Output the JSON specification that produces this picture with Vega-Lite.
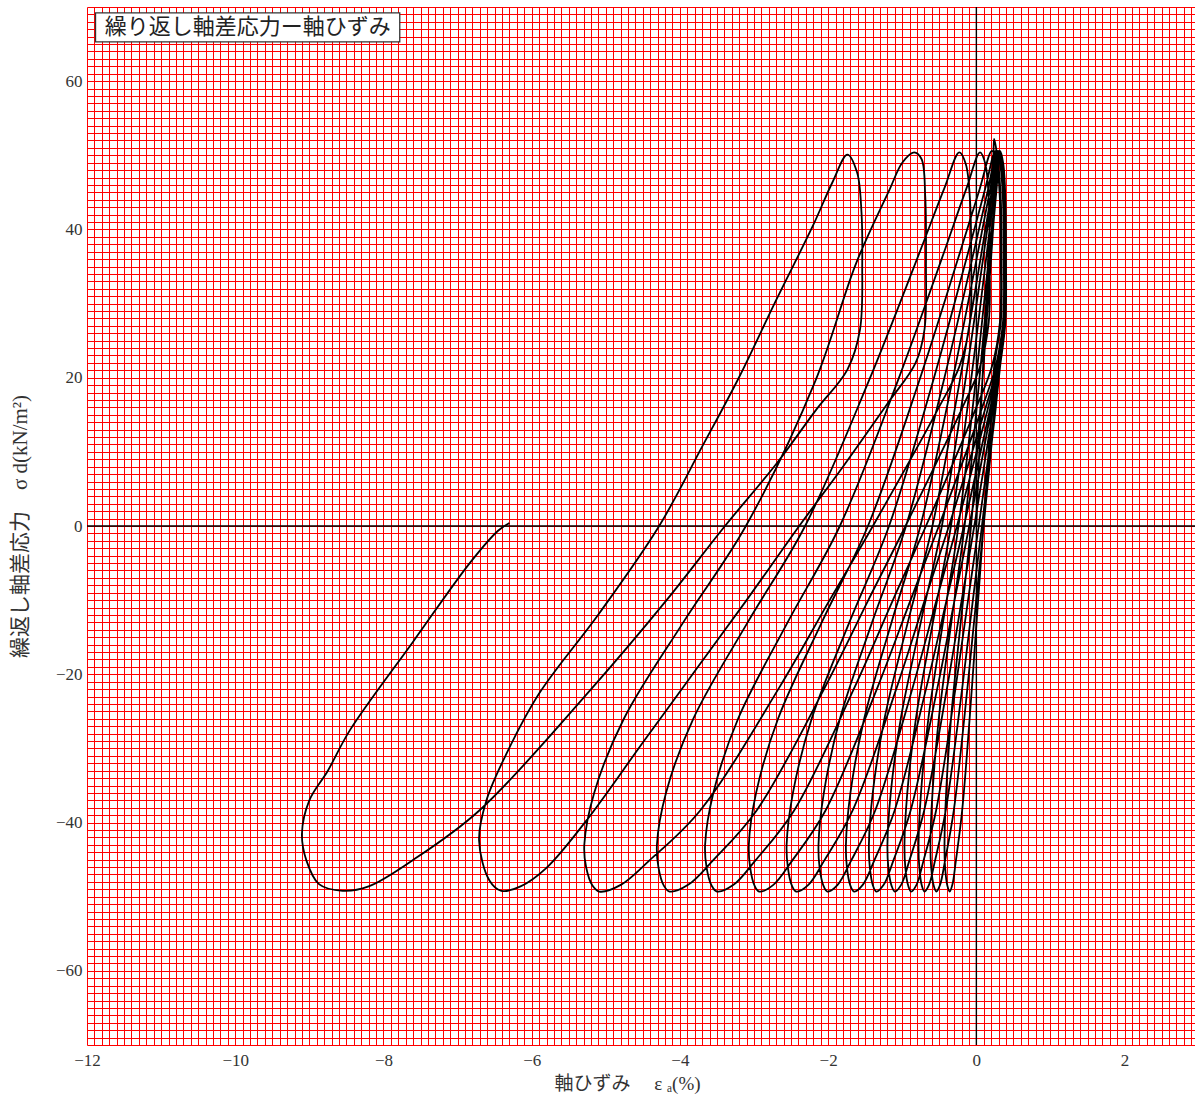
{
"$schema":"https://vega.github.io/schema/vega-lite/v6.json",
"width":1108,"height":1038,
"autosize":{"type":"none"},
"padding":{"left":87,"top":7,"right":0,"bottom":52},
"background":"white",
"config":{"view":{"stroke":null}},
"data":{"values":[
{"i":1,"x":0,"y":0},{"i":2,"x":0.06,"y":15},{"i":3,"x":0.14,"y":32},{"i":4,"x":0.2,"y":45},{"i":5,"x":0.23,"y":50},{"i":6,"x":0.24,"y":52.2},
{"i":7,"x":0.295,"y":48.8},{"i":8,"x":0.33,"y":44},{"i":9,"x":0.34,"y":36},{"i":10,"x":0.33,"y":27.5},{"i":11,"x":0.24,"y":21.5},{"i":12,"x":0.204,"y":15.7},{"i":13,"x":0.096,"y":0},{"i":14,"x":0.024,"y":-10},{"i":15,"x":-0.06,"y":-21.8},{"i":16,"x":-0.192,"y":-38.4},{"i":17,"x":-0.276,"y":-45.1},{"i":18,"x":-0.324,"y":-48.4},{"i":19,"x":-0.36,"y":-49.3},{"i":20,"x":-0.392,"y":-48.5},{"i":21,"x":-0.422,"y":-46},{"i":22,"x":-0.43,"y":-43},
{"i":23,"x":-0.408,"y":-36},{"i":24,"x":-0.342,"y":-26},{"i":25,"x":-0.211,"y":-13},{"i":26,"x":-0.072,"y":0},{"i":27,"x":0.081,"y":19.5},{"i":28,"x":0.198,"y":36},{"i":29,"x":0.264,"y":45.5},{"i":30,"x":0.3,"y":50.6},
{"i":31,"x":0.35,"y":48.8},{"i":32,"x":0.381,"y":44},{"i":33,"x":0.39,"y":36},{"i":34,"x":0.381,"y":27.5},{"i":35,"x":0.3,"y":21.5},{"i":36,"x":0.25,"y":15.7},{"i":37,"x":0.098,"y":0},{"i":38,"x":-0.002,"y":-10},{"i":39,"x":-0.12,"y":-21.8},{"i":40,"x":-0.305,"y":-38.4},{"i":41,"x":-0.422,"y":-45.1},{"i":42,"x":-0.49,"y":-48.4},{"i":43,"x":-0.54,"y":-49.3},{"i":44,"x":-0.576,"y":-48.5},{"i":45,"x":-0.61,"y":-46},{"i":46,"x":-0.62,"y":-43},
{"i":47,"x":-0.592,"y":-36},{"i":48,"x":-0.507,"y":-26},{"i":49,"x":-0.338,"y":-13},{"i":50,"x":-0.159,"y":0},{"i":51,"x":0.038,"y":19.5},{"i":52,"x":0.188,"y":36},{"i":53,"x":0.273,"y":45.5},{"i":54,"x":0.32,"y":50.6},
{"i":55,"x":0.364,"y":48.8},{"i":56,"x":0.392,"y":44},{"i":57,"x":0.4,"y":36},{"i":58,"x":0.392,"y":27.5},{"i":59,"x":0.32,"y":21.5},{"i":60,"x":0.259,"y":15.7},{"i":61,"x":0.075,"y":0},{"i":62,"x":-0.047,"y":-10},{"i":63,"x":-0.19,"y":-21.8},{"i":64,"x":-0.414,"y":-38.4},{"i":65,"x":-0.557,"y":-45.1},{"i":66,"x":-0.639,"y":-48.4},{"i":67,"x":-0.7,"y":-49.3},{"i":68,"x":-0.736,"y":-48.5},{"i":69,"x":-0.77,"y":-46},{"i":70,"x":-0.78,"y":-43},
{"i":71,"x":-0.747,"y":-36},{"i":72,"x":-0.648,"y":-26},{"i":73,"x":-0.45,"y":-13},{"i":74,"x":-0.241,"y":0},{"i":75,"x":-0.01,"y":19.5},{"i":76,"x":0.166,"y":36},{"i":77,"x":0.265,"y":45.5},{"i":78,"x":0.32,"y":50.6},
{"i":79,"x":0.364,"y":48.8},{"i":80,"x":0.392,"y":44},{"i":81,"x":0.4,"y":36},{"i":82,"x":0.392,"y":27.5},{"i":83,"x":0.32,"y":21.5},{"i":84,"x":0.248,"y":15.7},{"i":85,"x":0.032,"y":0},{"i":86,"x":-0.112,"y":-10},{"i":87,"x":-0.28,"y":-21.8},{"i":88,"x":-0.544,"y":-38.4},{"i":89,"x":-0.712,"y":-45.1},{"i":90,"x":-0.808,"y":-48.4},{"i":91,"x":-0.88,"y":-49.3},{"i":92,"x":-0.92,"y":-48.5},{"i":93,"x":-0.959,"y":-46},{"i":94,"x":-0.97,"y":-43},
{"i":95,"x":-0.932,"y":-36},{"i":96,"x":-0.816,"y":-26},{"i":97,"x":-0.586,"y":-13},{"i":98,"x":-0.343,"y":0},{"i":99,"x":-0.074,"y":19.5},{"i":100,"x":0.131,"y":36},{"i":101,"x":0.246,"y":45.5},{"i":102,"x":0.31,"y":50.6},
{"i":103,"x":0.354,"y":48.8},{"i":104,"x":0.382,"y":44},{"i":105,"x":0.39,"y":36},{"i":106,"x":0.382,"y":27.5},{"i":107,"x":0.31,"y":21.5},{"i":108,"x":0.225,"y":15.7},{"i":109,"x":-0.028,"y":0},{"i":110,"x":-0.198,"y":-10},{"i":111,"x":-0.395,"y":-21.8},{"i":112,"x":-0.705,"y":-38.4},{"i":113,"x":-0.903,"y":-45.1},{"i":114,"x":-1.015,"y":-48.4},{"i":115,"x":-1.1,"y":-49.3},{"i":116,"x":-1.145,"y":-48.5},{"i":117,"x":-1.188,"y":-46},{"i":118,"x":-1.2,"y":-43},
{"i":119,"x":-1.155,"y":-36},{"i":120,"x":-1.02,"y":-26},{"i":121,"x":-0.75,"y":-13},{"i":122,"x":-0.465,"y":0},{"i":123,"x":-0.15,"y":19.5},{"i":124,"x":0.09,"y":36},{"i":125,"x":0.225,"y":45.5},{"i":126,"x":0.3,"y":50.6},
{"i":127,"x":0.35,"y":48.8},{"i":128,"x":0.381,"y":44},{"i":129,"x":0.39,"y":36},{"i":130,"x":0.381,"y":27.5},{"i":131,"x":0.3,"y":21.5},{"i":132,"x":0.201,"y":15.7},{"i":133,"x":-0.096,"y":0},{"i":134,"x":-0.294,"y":-10},{"i":135,"x":-0.525,"y":-21.8},{"i":136,"x":-0.888,"y":-38.4},{"i":137,"x":-1.119,"y":-45.1},{"i":138,"x":-1.251,"y":-48.4},{"i":139,"x":-1.35,"y":-49.3},{"i":140,"x":-1.395,"y":-48.5},{"i":141,"x":-1.438,"y":-46},{"i":142,"x":-1.45,"y":-43},
{"i":143,"x":-1.398,"y":-36},{"i":144,"x":-1.24,"y":-26},{"i":145,"x":-0.925,"y":-13},{"i":146,"x":-0.593,"y":0},{"i":147,"x":-0.225,"y":19.5},{"i":148,"x":0.055,"y":36},{"i":149,"x":0.213,"y":45.5},{"i":150,"x":0.3,"y":50.6},
{"i":151,"x":0.35,"y":48.8},{"i":152,"x":0.381,"y":44},{"i":153,"x":0.39,"y":36},{"i":154,"x":0.381,"y":27.5},{"i":155,"x":0.3,"y":21.5},{"i":156,"x":0.183,"y":15.7},{"i":157,"x":-0.168,"y":0},{"i":158,"x":-0.402,"y":-10},{"i":159,"x":-0.675,"y":-21.8},{"i":160,"x":-1.104,"y":-38.4},{"i":161,"x":-1.377,"y":-45.1},{"i":162,"x":-1.533,"y":-48.4},{"i":163,"x":-1.65,"y":-49.3},{"i":164,"x":-1.7,"y":-48.5},{"i":165,"x":-1.747,"y":-46},{"i":166,"x":-1.76,"y":-43},
{"i":167,"x":-1.699,"y":-36},{"i":168,"x":-1.514,"y":-26},{"i":169,"x":-1.145,"y":-13},{"i":170,"x":-0.755,"y":0},{"i":171,"x":-0.325,"y":19.5},{"i":172,"x":0.003,"y":36},{"i":173,"x":0.188,"y":45.5},{"i":174,"x":0.29,"y":50.6},
{"i":175,"x":0.345,"y":48.8},{"i":176,"x":0.38,"y":44},{"i":177,"x":0.39,"y":36},{"i":178,"x":0.38,"y":27.5},{"i":179,"x":0.29,"y":21.5},{"i":180,"x":0.152,"y":15.7},{"i":181,"x":-0.262,"y":0},{"i":182,"x":-0.538,"y":-10},{"i":183,"x":-0.86,"y":-21.8},{"i":184,"x":-1.366,"y":-38.4},{"i":185,"x":-1.688,"y":-45.1},{"i":186,"x":-1.872,"y":-48.4},{"i":187,"x":-2.01,"y":-49.3},{"i":188,"x":-2.064,"y":-48.5},{"i":189,"x":-2.116,"y":-46},{"i":190,"x":-2.13,"y":-43},
{"i":191,"x":-2.058,"y":-36},{"i":192,"x":-1.841,"y":-26},{"i":193,"x":-1.407,"y":-13},{"i":194,"x":-0.949,"y":0},{"i":195,"x":-0.443,"y":19.5},{"i":196,"x":-0.057,"y":36},{"i":197,"x":0.16,"y":45.5},{"i":198,"x":0.28,"y":50.6},
{"i":199,"x":0.335,"y":48.8},{"i":200,"x":0.37,"y":44},{"i":201,"x":0.38,"y":36},{"i":202,"x":0.37,"y":27.5},{"i":203,"x":0.28,"y":21.5},{"i":204,"x":0.117,"y":15.7},{"i":205,"x":-0.37,"y":0},{"i":206,"x":-0.696,"y":-10},{"i":207,"x":-1.075,"y":-21.8},{"i":208,"x":-1.671,"y":-38.4},{"i":209,"x":-2.051,"y":-45.1},{"i":210,"x":-2.267,"y":-48.4},{"i":211,"x":-2.43,"y":-49.3},{"i":212,"x":-2.489,"y":-48.5},{"i":213,"x":-2.544,"y":-46},{"i":214,"x":-2.56,"y":-43},
{"i":215,"x":-2.475,"y":-36},{"i":216,"x":-2.222,"y":-26},{"i":217,"x":-1.714,"y":-13},{"i":218,"x":-1.178,"y":0},{"i":219,"x":-0.586,"y":19.5},{"i":220,"x":-0.135,"y":36},{"i":221,"x":0.119,"y":45.5},{"i":222,"x":0.26,"y":50.6},
{"i":223,"x":0.32,"y":48.8},{"i":224,"x":0.359,"y":44},{"i":225,"x":0.37,"y":36},{"i":226,"x":0.359,"y":27.5},{"i":227,"x":0.26,"y":21.5},{"i":228,"x":0.069,"y":15.7},{"i":229,"x":-0.506,"y":0},{"i":230,"x":-0.888,"y":-10},{"i":231,"x":-1.335,"y":-21.8},{"i":232,"x":-2.037,"y":-38.4},{"i":233,"x":-2.483,"y":-45.1},{"i":234,"x":-2.739,"y":-48.4},{"i":235,"x":-2.93,"y":-49.3},{"i":236,"x":-2.993,"y":-48.5},{"i":237,"x":-3.053,"y":-46},{"i":238,"x":-3.07,"y":-43},
{"i":239,"x":-2.972,"y":-36},{"i":240,"x":-2.676,"y":-26},{"i":241,"x":-2.086,"y":-13},{"i":242,"x":-1.463,"y":0},{"i":243,"x":-0.774,"y":19.5},{"i":244,"x":-0.249,"y":36},{"i":245,"x":0.046,"y":45.5},{"i":246,"x":0.21,"y":50.6},
{"i":247,"x":0.276,"y":48.8},{"i":248,"x":0.318,"y":44},{"i":249,"x":0.33,"y":36},{"i":250,"x":0.318,"y":27.5},{"i":251,"x":0.21,"y":21.5},{"i":252,"x":-0.013,"y":15.7},{"i":253,"x":-0.68,"y":0},{"i":254,"x":-1.126,"y":-10},{"i":255,"x":-1.645,"y":-21.8},{"i":256,"x":-2.461,"y":-38.4},{"i":257,"x":-2.981,"y":-45.1},{"i":258,"x":-3.277,"y":-48.4},{"i":259,"x":-3.5,"y":-49.3},{"i":260,"x":-3.572,"y":-48.5},{"i":261,"x":-3.641,"y":-46},{"i":262,"x":-3.66,"y":-43},
{"i":263,"x":-3.549,"y":-36},{"i":264,"x":-3.215,"y":-26},{"i":265,"x":-2.547,"y":-13},{"i":266,"x":-1.842,"y":0},{"i":267,"x":-1.063,"y":19.5},{"i":268,"x":-0.469,"y":36},{"i":269,"x":-0.135,"y":45.5},{"i":270,"x":0.05,"y":50.4},
{"i":271,"x":0.122,"y":48.8},{"i":272,"x":0.167,"y":44},{"i":273,"x":0.18,"y":36},{"i":274,"x":0.167,"y":27.5},{"i":275,"x":0.05,"y":21.5},{"i":276,"x":-0.201,"y":15.7},{"i":277,"x":-0.956,"y":0},{"i":278,"x":-1.458,"y":-10},{"i":279,"x":-2.045,"y":-21.8},{"i":280,"x":-2.967,"y":-38.4},{"i":281,"x":-3.553,"y":-45.1},{"i":282,"x":-3.889,"y":-48.4},{"i":283,"x":-4.14,"y":-49.3},{"i":284,"x":-4.217,"y":-48.5},{"i":285,"x":-4.29,"y":-46},{"i":286,"x":-4.31,"y":-43},
{"i":287,"x":-4.188,"y":-36},{"i":288,"x":-3.82,"y":-26},{"i":289,"x":-3.086,"y":-13},{"i":290,"x":-2.311,"y":0},{"i":291,"x":-1.454,"y":19.5},{"i":292,"x":-0.801,"y":36},{"i":293,"x":-0.434,"y":45.5},{"i":294,"x":-0.23,"y":50.4},
{"i":295,"x":-0.142,"y":48.8},{"i":296,"x":-0.086,"y":44},{"i":297,"x":-0.07,"y":36},{"i":298,"x":-0.086,"y":27.5},{"i":299,"x":-0.23,"y":21.5},{"i":300,"x":-0.522,"y":15.7},{"i":301,"x":-1.396,"y":0},{"i":302,"x":-1.98,"y":-10},{"i":303,"x":-2.66,"y":-21.8},{"i":304,"x":-3.729,"y":-38.4},{"i":305,"x":-4.41,"y":-45.1},{"i":306,"x":-4.798,"y":-48.4},{"i":307,"x":-5.09,"y":-49.3},{"i":308,"x":-5.18,"y":-48.5},{"i":309,"x":-5.266,"y":-46},{"i":310,"x":-5.29,"y":-43},
{"i":311,"x":-5.157,"y":-36},{"i":312,"x":-4.756,"y":-26},{"i":313,"x":-3.955,"y":-13},{"i":314,"x":-3.11,"y":0},{"i":315,"x":-2.175,"y":19.5},{"i":316,"x":-1.62,"y":35.5},{"i":317,"x":-1.17,"y":45.4},{"i":318,"x":-1.0,"y":49},{"i":319,"x":-0.84,"y":50.4},
{"i":320,"x":-0.74,"y":49.5},{"i":321,"x":-0.69,"y":44.5},{"i":322,"x":-0.68,"y":35.5},{"i":323,"x":-0.7,"y":26.5},{"i":324,"x":-0.82,"y":22},{"i":325,"x":-1.2,"y":16.5},{"i":326,"x":-1.8,"y":8},{"i":327,"x":-2.39,"y":0},{"i":328,"x":-3.1,"y":-10},{"i":329,"x":-3.8,"y":-19.6},{"i":330,"x":-4.5,"y":-29.2},{"i":331,"x":-5.26,"y":-39.7},{"i":332,"x":-5.8,"y":-46.1},{"i":333,"x":-6.15,"y":-48.6},{"i":334,"x":-6.41,"y":-49.2},{"i":335,"x":-6.57,"y":-47.8},{"i":336,"x":-6.71,"y":-42.4},
{"i":337,"x":-6.61,"y":-37},{"i":338,"x":-6.34,"y":-30.7},{"i":339,"x":-5.9,"y":-22.6},{"i":340,"x":-5.09,"y":-11.8},{"i":341,"x":-4.28,"y":0},{"i":342,"x":-3.7,"y":10.7},{"i":343,"x":-3.2,"y":20.1},{"i":344,"x":-2.7,"y":30.5},{"i":345,"x":-2.21,"y":40.4},{"i":346,"x":-1.94,"y":46.4},{"i":347,"x":-1.74,"y":50.1},
{"i":348,"x":-1.61,"y":47.7},{"i":349,"x":-1.55,"y":42.3},{"i":350,"x":-1.54,"y":35.5},{"i":351,"x":-1.57,"y":26.5},{"i":352,"x":-1.74,"y":21.1},{"i":353,"x":-2.16,"y":15.7},{"i":354,"x":-2.69,"y":8.5},{"i":355,"x":-3.4,"y":-0.1},{"i":356,"x":-4.18,"y":-10},{"i":357,"x":-5.18,"y":-21.8},{"i":358,"x":-6.71,"y":-38.4},{"i":359,"x":-7.61,"y":-45.1},{"i":360,"x":-8.2,"y":-48.6},{"i":361,"x":-8.55,"y":-49.2},
{"i":362,"x":-8.87,"y":-48.3},{"i":363,"x":-9.04,"y":-45.1},{"i":364,"x":-9.1,"y":-41.5},{"i":365,"x":-9.0,"y":-37},{"i":366,"x":-8.75,"y":-33},{"i":367,"x":-8.45,"y":-27.5},{"i":368,"x":-7.6,"y":-15.6},{"i":369,"x":-6.82,"y":-4.8},{"i":370,"x":-6.45,"y":-0.6},{"i":371,"x":-6.3,"y":0.4}
]},
"layer":[
{"data":{"values":[{}]},"mark":{"type":"rule","color":"#000000","strokeWidth":1.4},"encoding":{"x":{"datum":0,"type":"quantitative"}}},
{"data":{"values":[{}]},"mark":{"type":"rule","color":"#000000","strokeWidth":1.4},"encoding":{"y":{"datum":0,"type":"quantitative"}}},
{"mark":{"type":"line","interpolate":"catmull-rom","color":"#000000","strokeWidth":1.8,"clip":true},
 "encoding":{
  "x":{"field":"x","type":"quantitative","scale":{"domain":[-12,2.95],"nice":false,"zero":false},
   "axis":{"title":"軸ひずみ　 ε ₐ(%)","tickCount":150,"grid":true,"gridColor":"#ff0000","gridWidth":1,"gridOpacity":1,"ticks":false,"domain":false,
    "labelExpr":"abs(datum.value) < 0.001 ? '0' : (abs(datum.value/2 - round(datum.value/2)) < 0.001 ? format(round(datum.value),'d') : '')",
    "labelOverlap":false,"labelFlush":false,"labelBound":false,"labelFont":"Liberation Serif","labelFontSize":17,"labelColor":"#333333","labelPadding":7,
    "titleFont":"Liberation Serif, Noto Sans CJK JP","titleFontSize":19,"titleFontWeight":"normal","titleColor":"#333333","titlePadding":6,"titleX":540}},
  "y":{"field":"y","type":"quantitative","scale":{"domain":[-70,70],"nice":false,"zero":false},
   "axis":{"title":"繰返し軸差応力　σ d(kN/m²)","tickCount":140,"grid":true,"gridColor":"#ff0000","gridWidth":1,"gridOpacity":1,"ticks":false,"domain":false,
    "labelExpr":"abs(datum.value) < 0.001 ? '0' : (abs(datum.value/20 - round(datum.value/20)) < 0.001 && abs(datum.value) < 69 ? format(round(datum.value),'d') : '')",
    "labelOverlap":false,"labelFlush":false,"labelBound":false,"labelFont":"Liberation Serif","labelFontSize":17,"labelColor":"#333333","labelPadding":5,
    "titleFont":"Liberation Serif, Noto Sans CJK JP","titleFontSize":21,"titleFontWeight":"normal","titleColor":"#333333","titlePadding":25}},
  "order":{"field":"i","type":"quantitative"}
 }},
{"data":{"values":[{}]},"mark":{"type":"rect","fill":"#ffffff","stroke":"#333333","strokeWidth":1.3},
 "encoding":{"x":{"datum":-11.885,"type":"quantitative"},"x2":{"datum":-7.78},"y":{"datum":69.2,"type":"quantitative"},"y2":{"datum":65.3}}},
{"data":{"values":[{}]},"mark":{"type":"text","font":"Noto Sans CJK JP","fontSize":22,"color":"#222222","align":"center","baseline":"middle"},
 "encoding":{"x":{"datum":-9.83,"type":"quantitative"},"y":{"datum":67.25,"type":"quantitative"},"text":{"value":"繰り返し軸差応力ー軸ひずみ"}}}
]
}
